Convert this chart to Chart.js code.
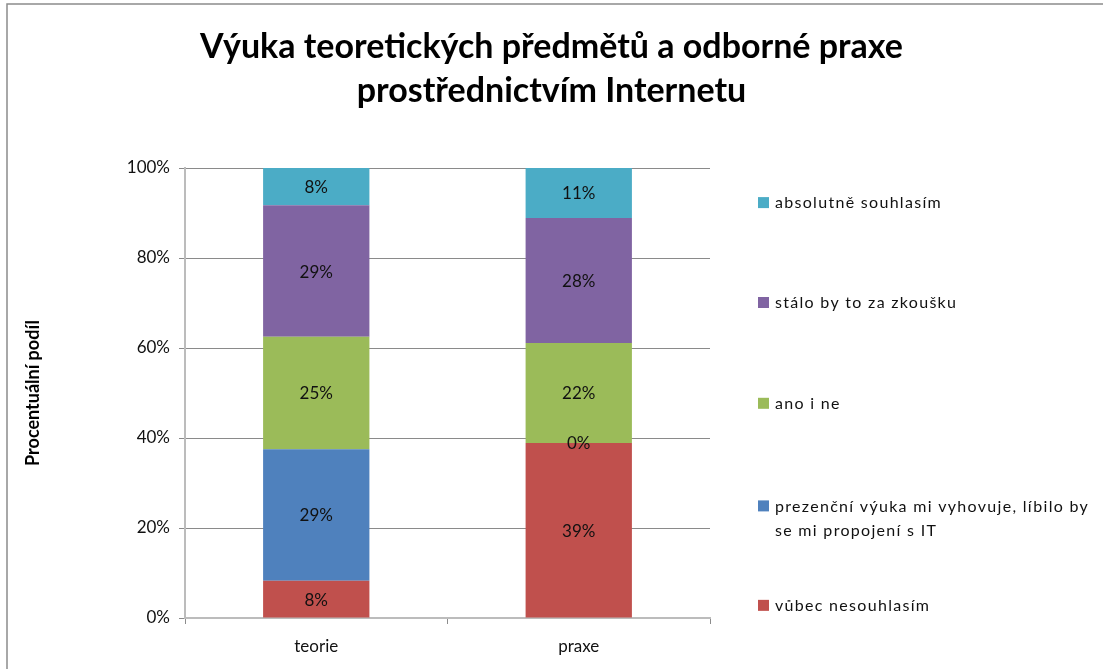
<!DOCTYPE html>
<html>
<head>
<meta charset="utf-8">
<script src="https://cdn.jsdelivr.net/npm/chart.js@4.4.0/dist/chart.umd.min.js"></script>
<style>
html,body{margin:0;padding:0;background:#fff;}
#wrap{width:1103px;height:669px;position:relative;}
</style>
</head>
<body>
<div id="wrap"><canvas id="c" width="1103" height="669"></canvas></div>
<script>
// ---- data ----
const categories = ['teorie', 'praxe'];
const seriesNames = [
  'vůbec nesouhlasím',
  'prezenční výuka mi vyhovuje, líbilo by se mi propojení s IT',
  'ano i ne',
  'stálo by to za zkoušku',
  'absolutně souhlasím'
];
const vubecNesouhlasim = [8.3, 38.9];
const prezencniVyuka = [29.2, 0];
const anoINe = [25.0, 22.2];
const staloByTo = [29.2, 27.8];
const absolutneSouhlasim = [8.3, 11.1];
const yTickLabels = ['0%', '20%', '40%', '60%', '80%', '100%'];
const titleLines = ['Výuka teoretických předmětů a odborné praxe', 'prostřednictvím Internetu'];
const yAxisTitle = 'Procentuální podíl';
const legendLines = [
  ['absolutně souhlasím'],
  ['stálo by to za zkoušku'],
  ['ano i ne'],
  ['prezenční výuka mi vyhovuje, líbilo by', 'se mi propojení s IT'],
  ['vůbec nesouhlasím']
];

const colors = ['#C0504D', '#4F81BD', '#9BBB59', '#8064A2', '#4BACC6'];
const FONT = 'Lato, "Open Sans", sans-serif';

const seriesValues = [vubecNesouhlasim, prezencniVyuka, anoINe, staloByTo, absolutneSouhlasim];

const datasets = seriesValues.map((vals, i) => ({
  label: seriesNames[i],
  data: vals,
  backgroundColor: colors[i],
  borderWidth: 0,
  barPercentage: 0.405,
  categoryPercentage: 1.0
}));

const framePlugin = {
  id: 'frame',
  beforeDraw(chart) {
    const ctx = chart.ctx;
    ctx.save();
    ctx.fillStyle = '#fff';
    ctx.fillRect(0, 0, chart.width, chart.height);
    ctx.strokeStyle = '#8c8c8c';
    ctx.lineWidth = 1.5;
    ctx.strokeRect(7, 4, chart.width + 20, chart.height + 20);
    ctx.restore();
  }
};

const labelPlugin = {
  id: 'segLabels',
  afterDatasetsDraw(chart) {
    const ctx = chart.ctx;
    ctx.save();
    ctx.font = '17px ' + FONT;
    ctx.fillStyle = '#111';
    ctx.textAlign = 'center';
    ctx.textBaseline = 'middle';
    chart.data.datasets.forEach((ds, di) => {
      const meta = chart.getDatasetMeta(di);
      meta.data.forEach((el, i) => {
        const v = ds.data[i];
        const y = (el.y + el.base) / 2;
        ctx.fillText(Math.round(v) + '%', el.x, y + 1);
      });
    });
    ctx.restore();
  }
};

const legendPlugin = {
  id: 'sideLegend',
  afterDraw(chart) {
    const ctx = chart.ctx;
    const ca = chart.chartArea;
    const h = ca.bottom - ca.top;
    // vertical layout of entries, as fractions of plot height
    const ys = [0.078, 0.300, 0.524, 0.752, 0.973].map(f => ca.top + f * h);
    const x0 = ca.right + 48;
    ctx.save();
    ctx.font = '16px ' + FONT;
    ctx.textBaseline = 'middle';
    ctx.textAlign = 'left';
    try { ctx.letterSpacing = '1.3px'; } catch (e) {}
    legendLines.forEach((lines, k) => {
      const y = ys[k];
      const c = colors[colors.length - 1 - k];
      ctx.fillStyle = c;
      ctx.fillRect(x0, y - 6, 11, 11);
      ctx.fillStyle = '#111';
      lines.forEach((t, j) => {
        ctx.fillText(t, x0 + 17, y + j * 24);
      });
    });
    ctx.restore();
  }
};

new Chart(document.getElementById('c'), {
  type: 'bar',
  data: { labels: categories, datasets },
  plugins: [framePlugin, labelPlugin, legendPlugin],
  options: {
    responsive: false,
    animation: false,
    layout: { padding: 0 },
    plugins: {
      legend: { display: false },
      tooltip: { enabled: false },
      title: {
        display: true,
        text: titleLines,
        color: '#000',
        font: { family: FONT, size: 34, weight: 'bold', lineHeight: '44px' },
        padding: { top: 25, bottom: 55 }
      }
    },
    scales: {
      x: {
        stacked: true,
        afterFit(scale) { scale.height = 51; },
        grid: {
          offset: true,
          drawOnChartArea: false,
          drawTicks: true,
          tickLength: 6,
          tickColor: '#8c8c8c'
        },
        border: { color: '#bcbcbc', width: 2 },
        ticks: { color: '#111', font: { family: FONT, size: 17 }, padding: 12 }
      },
      y: {
        stacked: true,
        min: 0,
        max: 100,
        afterFit(scale) { scale.width = 185; },
        grid: { color: '#8a8a8a', tickLength: 6, tickColor: '#8a8a8a' },
        border: { color: '#bcbcbc', width: 2 },
        ticks: {
          stepSize: 20,
          color: '#111',
          font: { family: FONT, size: 17 },
          padding: 9,
          callback: (v) => yTickLabels[Math.round(v / 20)]
        },
        title: {
          display: true,
          text: yAxisTitle,
          color: '#000',
          font: { family: FONT, size: 18, weight: 'bold' },
          padding: { top: 22, bottom: 0 }
        }
      },
      legendSpace: {
        position: 'right',
        display: true,
        afterFit(scale) { scale.width = 393; },
        grid: { display: false, drawTicks: false },
        border: { display: false },
        ticks: { display: false }
      }
    }
  }
});
</script>
</body>
</html>
